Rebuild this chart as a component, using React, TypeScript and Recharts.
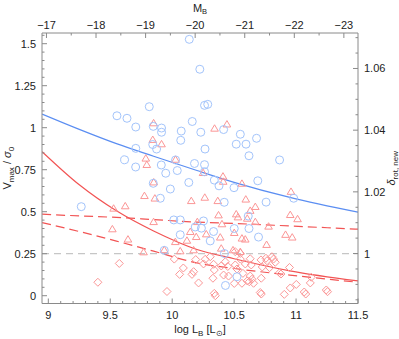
import React from "react";
import {
  ComposedChart,
  Line,
  ReferenceLine,
  Scatter,
  XAxis,
  YAxis,
} from "recharts";

// blue circles
const circleLogL = [
  10.138, 10.223, 9.815, 9.554, 9.635, 9.706, 9.847, 9.914, 9.914, 10.073,
  10.162, 10.231, 10.069, 9.706, 9.843, 9.874, 9.616, 9.705, 9.912, 10.027,
  10.18, 10.261, 10.261, 10.287, 10.415, 10.55, 10.517, 10.596, 10.681, 10.265,
  10.62, 10.867, 9.948, 10.041, 10.261, 10.134, 9.985, 9.847, 10.34, 10.378,
  10.499, 9.904, 10.42, 10.013, 10.065, 10.253, 10.186, 10.236, 10.334, 10.065,
  10.307, 10.501, 10.614, 10.62, 9.936, 10.422, 10.523, 10.43, 10.691, 10.981,
  10.758, 10.697, 9.266,
];
const circleRatio = [
  1.526, 1.348, 1.125, 1.071, 1.056, 1.004, 1.008, 0.998, 0.973, 0.98,
  1.037, 0.973, 0.925, 0.877, 0.9, 0.873, 0.809, 0.766, 0.778, 0.808,
  0.787, 0.78, 1.133, 1.139, 0.989, 0.961, 0.902, 0.902, 0.937, 0.873,
  0.833, 0.808, 0.729, 0.745, 0.738, 0.674, 0.635, 0.669, 0.688, 0.654,
  0.643, 0.58, 0.556, 0.451, 0.451, 0.445, 0.409, 0.402, 0.382, 0.363,
  0.326, 0.4, 0.474, 0.4, 0.27, 0.251, 0.113, 0.061, 0.684, 0.58,
  0.557, 0.349, 0.53,
];

// red triangles
const triangleLogL = [
  9.85, 9.843, 9.914, 9.787, 9.795, 10.027, 10.342, 10.442, 9.851, 9.776,
  9.86, 10.154, 9.527, 9.621, 9.517, 9.643, 9.85, 9.769, 9.936, 10.203,
  10.146, 10.194, 10.119, 10.025, 10.065, 10.173, 10.263, 10.368, 10.41, 10.412,
  10.249, 10.563, 10.594, 10.374, 10.517, 10.531, 10.606, 10.275, 10.388, 10.501,
  10.563, 10.396, 10.491, 10.55, 10.63, 10.671, 10.671, 10.59, 10.778, 10.959,
  10.953, 11.012, 10.915, 10.969, 10.762, 10.402,
];
const triangleRatio = [
  1.028, 0.929, 0.903, 0.818, 0.78, 0.811, 0.996, 1.021, 0.676, 0.595,
  0.58, 0.565, 0.52, 0.534, 0.397, 0.336, 0.44, 0.26, 0.273, 0.44,
  0.381, 0.351, 0.329, 0.321, 0.266, 0.272, 0.585, 0.565, 0.711, 0.68,
  0.732, 0.668, 0.574, 0.48, 0.486, 0.468, 0.46, 0.367, 0.348, 0.375,
  0.342, 0.282, 0.272, 0.262, 0.507, 0.53, 0.44, 0.336, 0.413, 0.62,
  0.482, 0.457, 0.364, 0.348, 0.304, 0.427,
];

// red diamonds
const diamondLogL = [
  9.4, 9.573, 9.958, 10.017, 10.09, 10.06, 10.173, 10.16, 10.213, 10.19,
  10.253, 10.267, 10.307, 10.334, 10.34, 10.396, 10.429, 10.449, 10.509, 10.523,
  10.415, 10.455, 10.509, 10.55, 10.55, 10.59, 10.571, 10.501, 10.563, 10.606,
  10.34, 10.348, 10.63, 10.638, 10.717, 10.727, 10.757, 10.765, 10.805, 10.818,
  10.832, 10.786, 10.947, 10.867, 10.878, 10.63, 10.644, 10.719, 10.622, 10.657,
  10.711, 10.719, 10.905, 10.953, 11.002, 11.066, 11.078, 11.115, 11.123, 11.244,
  11.254, 10.329,
];
const diamondRatio = [
  0.08, 0.192, 0.025, 0.218, 0.165, 0.127, 0.143, 0.127, 0.076, 0.215,
  0.189, 0.217, 0.232, 0.187, 0.153, 0.177, 0.202, 0.174, 0.183, 0.159,
  0.123, 0.117, 0.262, 0.252, 0.218, 0.189, 0.133, 0.073, 0.074, 0.088,
  0.014, 0.0, 0.22, 0.183, 0.213, 0.171, 0.223, 0.208, 0.232, 0.218,
  0.199, 0.167, 0.168, 0.137, 0.129, 0.117, 0.098, 0.104, 0.083, 0.074,
  0.019, 0.01, 0.008, 0.046, 0.067, 0.022, 0.01, 0.076, 0.11, 0.034,
  0.024, 0.104,
];

// model curves, read at common log L points
const curveLogL = [8.95, 9.25, 9.55, 9.85, 10.2, 10.5, 10.95, 11.5];
const blueCurve = [1.081, 0.99, 0.905, 0.83, 0.745, 0.675, 0.585, 0.497];
const redCurve = [0.857, 0.66, 0.505, 0.385, 0.275, 0.22, 0.148, 0.088];
const redDashUpper = [0.485, 0.475, 0.466, 0.453, 0.438, 0.43, 0.415, 0.396];
const redDashLower = [0.435, 0.382, 0.325, 0.265, 0.195, 0.162, 0.123, 0.08];

const bottomLabels = ["9", "9.5", "10", "10.5", "11", "11.5"];
const leftLabels = ["0", "0.25", "0.5", "0.75", "1", "1.25", "1.5"];
const rightLabels = ["1", "1.02", "1.04", "1.06"];
const topLabels = ["−17", "−18", "−19", "−20", "−21", "−22", "−23"];

const FONT = "'Liberation Sans', Arial, Helvetica, sans-serif";
const AXIS = "#8a8a8a";
const TEXT = "#222";
const BLUE = "#5b8ef2";
const BLUE_LIGHT = "#a3c4fb";
const RED = "#f25454";
const RED_LIGHT = "#fb9696";

const W = 399;
const H = 339;
const LEFT = 42;
const RIGHT = 41;
const TOP = 33;
const BOTTOM = 35.5;

const pairs = (xs: number[], ys: number[]) => xs.map((x, i) => ({ x, y: ys[i] }));

const circles = pairs(circleLogL, circleRatio);
const triangles = pairs(triangleLogL, triangleRatio);
const diamonds = pairs(diamondLogL, diamondRatio);
const blueLine = pairs(curveLogL, blueCurve);
const redLine = pairs(curveLogL, redCurve);
const upperDash = pairs(curveLogL, redDashUpper);
const lowerDash = pairs(curveLogL, redDashLower);

function steps(start: number, end: number, step: number) {
  const n = Math.round((end - start) / step);
  const out: number[] = [];
  for (let i = 0; i <= n; i++) out.push(Number((start + i * step).toFixed(4)));
  return out;
}

const isWhole = (v: number) => Math.abs(v - Math.round(v)) < 1e-6;

const bottomTicks = steps(9, 11.5, 0.1);
const leftTicks = steps(0, 1.55, 0.05);
const rightTicks = steps(0.985, 1.07, 0.005);
const topTicks = steps(-23, -17, 0.5);

const textStyle = { fontFamily: FONT, fontSize: 11, fill: TEXT };

function BottomTick(props: any) {
  const { x, y, payload } = props;
  const v = payload.value;
  const major = isWhole(v * 2);
  const label = bottomLabels.find((s) => Math.abs(Number(s) - v) < 1e-6);
  return (
    <g>
      <line x1={x} x2={x} y1={y} y2={y - (major ? 5 : 2.5)} stroke={AXIS} />
      {major && label ? (
        <text {...textStyle} x={x} y={y + 15} textAnchor="middle">
          {label}
        </text>
      ) : null}
    </g>
  );
}

function TopTick(props: any) {
  const { x, y, payload } = props;
  const v = payload.value;
  const major = isWhole(v);
  const label = topLabels.find((s) => Number(s.replace("−", "-")) === v);
  return (
    <g>
      <line x1={x} x2={x} y1={y} y2={y + (major ? 5 : 2.5)} stroke={AXIS} />
      {major && label ? (
        <text {...textStyle} x={x} y={y - 4} textAnchor="middle">
          {label}
        </text>
      ) : null}
    </g>
  );
}

function LeftTick(props: any) {
  const { x, y, payload } = props;
  const v = payload.value;
  const major = isWhole(v * 4);
  const label = leftLabels.find((s) => Math.abs(Number(s) - v) < 1e-6);
  return (
    <g>
      <line x1={x} x2={x + (major ? 5 : 2.5)} y1={y} y2={y} stroke={AXIS} />
      {major && label ? (
        <text {...textStyle} x={x - 6} y={y + 4} textAnchor="end">
          {label}
        </text>
      ) : null}
    </g>
  );
}

function RightTick(props: any) {
  const { x, y, payload } = props;
  const v = payload.value;
  const major = isWhole(v * 50);
  const label = rightLabels.find((s) => Math.abs(Number(s) - v) < 1e-6);
  return (
    <g>
      <line x1={x} x2={x - (major ? 5 : 2.5)} y1={y} y2={y} stroke={AXIS} />
      {major && label ? (
        <text {...textStyle} x={x + 6} y={y + 4} textAnchor="start">
          {label}
        </text>
      ) : null}
    </g>
  );
}

const Circle = (p: any) => (
  <circle cx={p.cx} cy={p.cy} r={4} fill="none" stroke={BLUE_LIGHT} strokeWidth={1} />
);

const Triangle = (p: any) => (
  <polygon
    points={`${p.cx},${p.cy - 3.6} ${p.cx - 3.8},${p.cy + 2.8} ${p.cx + 3.8},${p.cy + 2.8}`}
    fill="none"
    stroke={RED_LIGHT}
    strokeWidth={1}
  />
);

const Diamond = (p: any) => (
  <polygon
    points={`${p.cx},${p.cy - 4} ${p.cx + 4},${p.cy} ${p.cx},${p.cy + 4} ${p.cx - 4},${p.cy}`}
    fill="none"
    stroke={RED_LIGHT}
    strokeWidth={1}
  />
);

const plotMidY = TOP + (H - TOP - BOTTOM) / 2;
const plotMidX = LEFT + (W - LEFT - RIGHT) / 2;

const BottomTitle = () => (
  <text {...textStyle} x={plotMidX} y={H - 6} textAnchor="middle">
    log L
    <tspan fontSize={8} dy={3}>B</tspan>
    <tspan dy={-3}> [L</tspan>
    <tspan fontSize={8} dy={3}>⊙</tspan>
    <tspan dy={-3}>]</tspan>
  </text>
);

const TopTitle = () => (
  <text {...textStyle} x={plotMidX} y={12} textAnchor="middle">
    M
    <tspan fontSize={7.5} dy={2}>B</tspan>
  </text>
);

const LeftTitle = () => (
  <text
    {...textStyle}
    x={11}
    y={plotMidY}
    textAnchor="middle"
    transform={`rotate(-90, 11, ${plotMidY})`}
  >
    V
    <tspan fontSize={8} dy={3}>max</tspan>
    <tspan dy={-3}> / </tspan>
    <tspan fontStyle="italic">σ</tspan>
    <tspan fontSize={8} dy={3}>0</tspan>
  </text>
);

const RightTitle = () => (
  <text
    {...textStyle}
    x={395}
    y={plotMidY}
    textAnchor="middle"
    transform={`rotate(-90, 395, ${plotMidY})`}
  >
    <tspan fontStyle="italic">δ</tspan>
    <tspan fontSize={8} dy={3}>rot, new</tspan>
  </text>
);

const anchor = [{ mb: -20, d: 1 }];

export default function App() {
  return (
    <div style={{ position: "absolute", left: 0, top: 0, background: "#fff" }}>
      <ComposedChart
        width={W}
        height={H}
        margin={{ top: 0, right: 0, bottom: 0, left: 0 }}
      >
        <XAxis
          xAxisId="main"
          dataKey="x"
          type="number"
          domain={[8.949, 11.5]}
          allowDataOverflow
          ticks={bottomTicks}
          interval={0}
          tick={<BottomTick />}
          tickSize={0}
          tickMargin={0}
          tickLine={false}
          height={BOTTOM}
          stroke={AXIS}
          label={<BottomTitle />}
        />
        <XAxis
          xAxisId="top"
          orientation="top"
          dataKey="mb"
          type="number"
          domain={[-23.285, -16.91]}
          reversed
          allowDataOverflow
          ticks={topTicks}
          interval={0}
          tick={<TopTick />}
          tickSize={0}
          tickMargin={0}
          tickLine={false}
          height={TOP}
          stroke={AXIS}
          label={<TopTitle />}
        />
        <YAxis
          yAxisId="main"
          dataKey="y"
          type="number"
          domain={[-0.0464, 1.5637]}
          allowDataOverflow
          ticks={leftTicks}
          interval={0}
          tick={<LeftTick />}
          tickSize={0}
          tickMargin={0}
          tickLine={false}
          width={LEFT}
          stroke={AXIS}
          label={<LeftTitle />}
        />
        <YAxis
          yAxisId="right"
          orientation="right"
          dataKey="d"
          type="number"
          domain={[0.9838, 1.0715]}
          allowDataOverflow
          ticks={rightTicks}
          interval={0}
          tick={<RightTick />}
          tickSize={0}
          tickMargin={0}
          tickLine={false}
          width={RIGHT}
          stroke={AXIS}
          label={<RightTitle />}
        />
        <Scatter
          data={anchor}
          xAxisId="top"
          yAxisId="right"
          shape={() => <g />}
          isAnimationActive={false}
        />
        <ReferenceLine
          xAxisId="main"
          yAxisId="main"
          y={0.25}
          stroke="#b8b8b8"
          strokeDasharray="7 5"
        />
        <Line
          xAxisId="main"
          yAxisId="main"
          data={upperDash}
          dataKey="y"
          type="monotone"
          dot={false}
          stroke={RED}
          strokeWidth={1.2}
          strokeDasharray="9 5"
          isAnimationActive={false}
        />
        <Line
          xAxisId="main"
          yAxisId="main"
          data={lowerDash}
          dataKey="y"
          type="monotone"
          dot={false}
          stroke={RED}
          strokeWidth={1.2}
          strokeDasharray="9 5"
          isAnimationActive={false}
        />
        <Scatter
          xAxisId="main"
          yAxisId="main"
          data={diamonds}
          shape={Diamond}
          isAnimationActive={false}
        />
        <Scatter
          xAxisId="main"
          yAxisId="main"
          data={triangles}
          shape={Triangle}
          isAnimationActive={false}
        />
        <Scatter
          xAxisId="main"
          yAxisId="main"
          data={circles}
          shape={Circle}
          isAnimationActive={false}
        />
        <Line
          xAxisId="main"
          yAxisId="main"
          data={redLine}
          dataKey="y"
          type="monotone"
          dot={false}
          stroke={RED}
          strokeWidth={1.2}
          isAnimationActive={false}
        />
        <Line
          xAxisId="main"
          yAxisId="main"
          data={blueLine}
          dataKey="y"
          type="monotone"
          dot={false}
          stroke={BLUE}
          strokeWidth={1.2}
          isAnimationActive={false}
        />
      </ComposedChart>
    </div>
  );
}
